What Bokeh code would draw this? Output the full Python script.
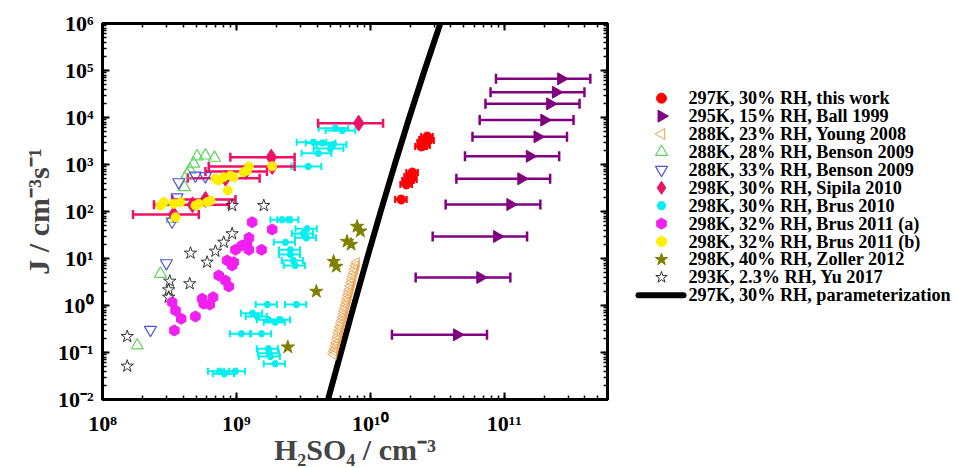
import numpy as np
from bokeh.plotting import figure
from bokeh.layouts import row
from bokeh.models import (Whisker, TeeHead, ColumnDataSource, LogAxis, LogTicker, CustomJSTickFormatter)
from bokeh.embed import file_html
from bokeh.resources import INLINE
from bokeh.core.properties import value

# ---------------- data ----------------
# 297K, 30% RH, this work
work_x = [2.66e10, 2.57e10, 2.49e10, 2.71e10, 2.40e10, 2.53e10, 2.06e10, 1.99e10, 1.92e10, 2.02e10, 1.86e10, 1.70e10]
work_J = [3.94e3, 3.41e3, 2.94e3, 3.24e3, 2.42e3, 2.54e3, 676, 556, 457, 480, 375, 180]
work_err = 0.10

# 295K, 15% RH, Ball 1999
ball_x = [2.66e11, 2.43e11, 2.20e11, 1.99e11, 1.77e11, 1.55e11, 1.34e11, 1.11e11, 8.83e10, 6.62e10, 4.44e10]
ball_J = [6.65e4, 3.45e4, 1.95e4, 8.8e3, 3.88e3, 1.5e3, 497, 141, 29.4, 3.94, 0.238]
ball_xlo = [8.67e10, 7.9e10, 7.24e10, 6.55e10, 5.79e10, 5.09e10, 4.39e10, 3.65e10, 2.92e10, 2.18e10, 1.45e10]
ball_xhi = [4.39e11, 3.97e11, 3.65e11, 3.29e11, 2.94e11, 2.57e11, 2.2e11, 1.86e11, 1.48e11, 1.11e11, 7.43e10]

# 288K, 23% RH, Young 2008
young_J = [0.091, 0.105, 0.12, 0.14, 0.16, 0.19, 0.22, 0.26, 0.30, 0.35, 0.41, 0.48, 0.56, 0.65, 0.76,
           0.89, 1.04, 1.2, 1.4, 1.65, 1.9, 2.2, 2.6, 3.1, 3.6, 4.2, 5.0, 5.9, 7.0, 8.2]
young_x = [5.30e9, 5.37e9, 5.43e9, 5.51e9, 5.57e9, 5.65e9, 5.73e9, 5.81e9, 5.89e9, 5.97e9, 6.05e9, 6.14e9,
           6.22e9, 6.30e9, 6.39e9, 6.48e9, 6.57e9, 6.65e9, 6.74e9, 6.83e9, 6.92e9, 7.01e9, 7.11e9, 7.22e9,
           7.32e9, 7.42e9, 7.53e9, 7.64e9, 7.76e9, 7.87e9]

# 288K, 28% RH, Benson 2009
ben28_x = [5.09e8, 5.87e8, 6.86e8, 4.80e8, 4.48e8, 4.28e8, 4.09e8, 3.31e8, 2.71e8, 1.82e8]
ben28_J = [1.48e3, 1.55e3, 1.39e3, 1.04e3, 771, 612, 329, 70, 4.72, 0.141]

# 288K, 33% RH, Benson 2009
ben33_x = [4.94e8, 5.87e8, 3.71e8, 3.61e8, 3.31e8, 3.0e8, 2.28e8]
ben33_J = [583, 564, 420, 201, 61.2, 7.94, 0.304]

# 298K, 30% RH, Sipila 2010
sip_x = [8.18e9, 1.82e9, 1.85e9, 1.17e9, 8.28e8, 5.87e8, 4.7e8, 3.4e8]
sip_J = [7.57e3, 1.43e3, 906, 709, 512, 180, 139, 86.3]
sip_xlo = [4.07e9, 9.01e8, 6.21e8, 5.87e8, 4.33e8, 3.31e8, 2.42e8, 1.69e8]
sip_xhi = [1.245e10, 2.72e9, 2.72e9, 1.69e9, 1.49e9, 9.84e8, 8.77e8, 5.24e8]

# 298K, 30% RH, Brus 2010
brus10_x = [5.48e9, 6.18e9, 3.76e9, 4.39e9, 5.30e9, 5.03e9, 4.09e9, 3.44e9,
            2.19e9, 2.46e9, 3.37e9, 3.16e9, 3.33e9, 2.32e9, 2.53e9, 2.53e9, 2.66e9, 2.75e9,
            1.70e9, 2.81e9, 1.32e9, 1.43e9, 1.73e9, 2.13e9, 1.95e9, 1.09e9, 1.54e9,
            1.73e9, 1.76e9, 1.79e9, 1.95e9, 7.47e8, 9.84e8, 8.13e8]
brus10_J = [5.92e3, 5.28e3, 2.98e3, 2.87e3, 2.67e3, 2.19e3, 1.74e3, 906,
            66.5, 66.5, 42.8, 34.0, 27.5, 22.2, 15.3, 12.2, 9.06, 7.09,
            1.05, 1.05, 0.685, 0.583, 0.496, 0.496, 0.442, 0.25, 0.25,
            0.12, 0.0966, 0.0822, 0.0575, 0.04, 0.04, 0.0352]
brus10_err = [0.25] * 8 + [0.18] * 26

# 298K, 32% RH, Brus 2011 (a)
brus11a_x = [1.31e9, 1.85e9, 1.24e9, 1.20e9, 1.10e9, 9.84e8, 1.24e9, 1.54e9, 8.53e8, 9.55e8, 9.29e8,
             7.38e8, 8.28e8, 8.77e8, 5.55e8, 6.70e8, 5.70e8, 6.32e8, 3.31e8, 3.51e8, 3.87e8, 4.94e8, 3.44e8]
brus11a_J = [59.2, 41.4, 27.5, 20.5, 18.9, 15.3, 15.3, 15.3, 9.06, 8.34, 7.09,
             4.35, 3.40, 2.54, 1.39, 1.50, 1.09, 1.05, 1.17, 0.783, 0.521, 0.583, 0.294]

# 298K, 32% RH, Brus 2011 (b)
brus11b_x = [1.85e9, 1.24e9, 1.20e9, 1.13e9, 9.55e8, 9.02e8, 8.04e8, 7.38e8, 6.97e8, 8.61e8,
             6.4e8, 6.04e8, 5.23e8, 4.94e8, 3.82e8, 3.40e8, 2.87e8, 2.71e8, 3.51e8]
brus11b_J = [920, 906, 745, 686, 537, 583, 537, 457, 497, 280,
             171, 158, 146, 134, 158, 146, 158, 134, 75.7]

# 298K, 40% RH, Zoller 2012
zol_x = [7.96e9, 8.42e9, 6.70e9, 7.18e9, 5.32e9, 5.57e9, 3.95e9, 2.42e9]
zol_J = [48, 38.1, 23.0, 19.9, 8.63, 6.76, 1.99, 0.13]

# 293K, 2.3% RH, Yu 2017
yu_x = [9.29e8, 1.60e9, 9.29e8, 8.04e8, 6.97e8, 4.54e8, 6.04e8, 3.18e8, 4.48e8, 3.12e8, 3.12e8, 1.53e8, 1.53e8]
yu_J = [134, 134, 33.6, 22.2, 14.3, 13.0, 8.34, 3.29, 2.9, 2.16, 1.5, 0.219, 0.0512]

# 297K, 30% RH, parameterization
param_x = [4.83e9, 6.03e9, 7.53e9, 9.45e9, 1.194e10, 1.521e10, 1.954e10, 2.538e10, 3.33e10]
param_J = [1e-2, 1e-1, 1, 10, 100, 1e3, 1e4, 1e5, 1e6]

labels = ["297K, 30% RH, this work", "295K, 15% RH,  Ball 1999", "288K, 23% RH, Young 2008",
          "288K, 28% RH, Benson 2009", "288K, 33% RH, Benson 2009", "298K, 30% RH, Sipila 2010",
          "298K, 30% RH, Brus 2010", "298K, 32% RH, Brus 2011 (a)", "298K, 32% RH, Brus 2011 (b)",
          "298K, 40% RH, Zoller 2012", "293K, 2.3% RH, Yu 2017", "297K, 30% RH, parameterization"]
x_title = "H\u2082SO\u2084 / cm\u207b\u00b3"
y_title = "J / cm\u207b\u00b3s\u207b\u00b9"

# ---------------- styles ----------------
FONT = "Liberation Serif"
C_RED, C_PUR, C_YOUNG, C_GRN, C_BLU = "#FF0000", "#800080", "#F0A050", "#5FD35F", "#5050D8"
C_SIP, C_CYAN, C_MAG, C_YEL, C_OLV = "#EE1166", "#00F0F0", "#F020F0", "#FFEE00", "#808000"
# marker style per series (legend order): marker, angle, size, fill, line, line_width
styles = [
    ("circle", 0, 9, C_RED, C_RED, 1),
    ("triangle", -np.pi / 2, 12, C_PUR, C_PUR, 1),
    ("triangle", np.pi / 2, 10, None, C_YOUNG, 1),
    ("triangle", 0, 12, None, C_GRN, 1.2),
    ("inverted_triangle", 0, 12, None, C_BLU, 1.2),
    ("diamond", 0, 16, C_SIP, C_SIP, 1),
    ("hex", 0, 7, C_CYAN, C_CYAN, 1),
    ("hex", np.pi / 2, 11, C_MAG, C_MAG, 1),
    ("circle", 0, 9, C_YEL, C_YEL, 1),
    ("star", 0, 14, C_OLV, C_OLV, 1),
    ("star", 0, 13, None, "#333333", 1),
]
legend_sizes = [10, 12, 11, 12, 12, 13, 9, 11, 10, 13, 12]

# ---------------- main figure ----------------
p = figure(x_axis_type="log", y_axis_type="log", x_range=(1e8, 5.9e11), y_range=(1e-2, 1e6),
           frame_width=505, frame_height=376, min_border_left=102, min_border_top=23,
           min_border_right=10, min_border_bottom=69,
           output_backend="svg", toolbar_location=None)
p.grid.visible = False
p.outline_line_color = "black"
p.outline_line_width = 3

fmt = CustomJSTickFormatter(code="""
const sup = {"-":"\u207b","0":"\u2070","1":"\u00b9","2":"\u00b2","3":"\u00b3","4":"\u2074","5":"\u2075","6":"\u2076","7":"\u2077","8":"\u2078","9":"\u2079"};
const e = Math.round(Math.log10(tick));
return "10" + String(e).split("").map(c => sup[c]).join("");
""")

def style_axis(ax, show_labels):
    ax.ticker = LogTicker(num_minor_ticks=10)
    ax.axis_line_width = 3
    ax.major_tick_in = 7
    ax.major_tick_out = 0
    ax.minor_tick_in = 4
    ax.minor_tick_out = 0
    ax.major_tick_line_width = 2
    ax.minor_tick_line_width = 1.5
    ax.formatter = fmt
    ax.major_label_text_font = FONT
    ax.major_label_text_font_style = "bold"
    ax.axis_label_text_font = FONT
    ax.axis_label_text_font_style = "bold"
    ax.axis_label_text_font_size = "30px"
    if show_labels:
        ax.major_label_text_font_size = "22px"
        ax.major_label_text_color = "black"
    else:
        ax.major_label_text_font_size = "0px"
        ax.major_label_text_color = None
        ax.major_label_standoff = 0

xa, ya = p.xaxis[0], p.yaxis[0]
style_axis(xa, True)
style_axis(ya, True)
xa.major_label_standoff = 11
ya.major_label_standoff = 9
xa.axis_label = x_title
ya.axis_label = y_title
xa.axis_label_standoff = -6
ya.axis_label_standoff = 0

top = LogAxis(); style_axis(top, False)
right = LogAxis(); style_axis(right, False)
p.add_layout(top, "above")
p.add_layout(right, "right")

def hbars(lo, hi, y, color, lw=2, head=9):
    src = ColumnDataSource(dict(base=y, lower=lo, upper=hi))
    w = Whisker(source=src, base="base", lower="lower", upper="upper", dimension="width",
                line_color=color, line_width=lw,
                upper_head=TeeHead(size=head, line_color=color, line_width=lw),
                lower_head=TeeHead(size=head, line_color=color, line_width=lw))
    p.add_layout(w)

# error bars
hbars(ball_xlo, ball_xhi, ball_J, C_PUR, 2.5, 10)
hbars([x * (1 - e) for x, e in zip(brus10_x, brus10_err)], [x * (1 + e) for x, e in zip(brus10_x, brus10_err)],
      brus10_J, C_CYAN, 2, 7)
hbars(sip_xlo, sip_xhi, sip_J, C_SIP, 2.5, 9)
hbars([x * (1 - work_err) for x in work_x], [x * (1 + work_err) for x in work_x], work_J, C_RED, 2, 7)

p.line(param_x, param_J, line_width=6, line_color="black")

series = [(work_x, work_J), (ball_x, ball_J), (young_x, young_J), (ben28_x, ben28_J), (ben33_x, ben33_J),
          (sip_x, sip_J), (brus10_x, brus10_J), (brus11a_x, brus11a_J), (brus11b_x, brus11b_J),
          (zol_x, zol_J), (yu_x, yu_J)]
draw_order = [2, 1, 6, 3, 4, 10, 7, 5, 8, 9, 0]
for i in draw_order:
    mk, ang, sz, fc, lc, lw = styles[i]
    xs, ys = series[i]
    p.scatter(xs, ys, marker=mk, angle=ang, size=sz, fill_color=fc, line_color=lc, line_width=lw)

# ---------------- legend panel ----------------
L_W, L_H = 340, 468
q = figure(width=L_W, height=L_H, x_range=(0, L_W), y_range=(L_H, 0),
           x_axis_type=None, y_axis_type=None, min_border=0,
           output_backend="svg", toolbar_location=None)
q.grid.visible = False
q.outline_line_color = None
row_y = [93 + 22.3 * i for i in range(len(labels))]
mark_cx, line_x0, line_x1, text_x = 44, 21, 66, 71
for i, (mk, ang, sz, fc, lc, lw) in enumerate(styles):
    q.scatter([mark_cx], [row_y[i]], marker=mk, angle=ang, size=legend_sizes[i],
              fill_color=fc, line_color=lc, line_width=lw)
q.segment(x0=[line_x0], y0=[row_y[-1]], x1=[line_x1], y1=[row_y[-1]], line_width=6,
          line_color="black", line_cap="round")
q.text(x=[text_x] * len(labels), y=row_y, text=labels, text_font=value(FONT),
       text_font_style="bold", text_font_size="18.2px", text_baseline="middle", text_color="black")

open("out.html", "w").write(file_html(row(p, q), INLINE))
